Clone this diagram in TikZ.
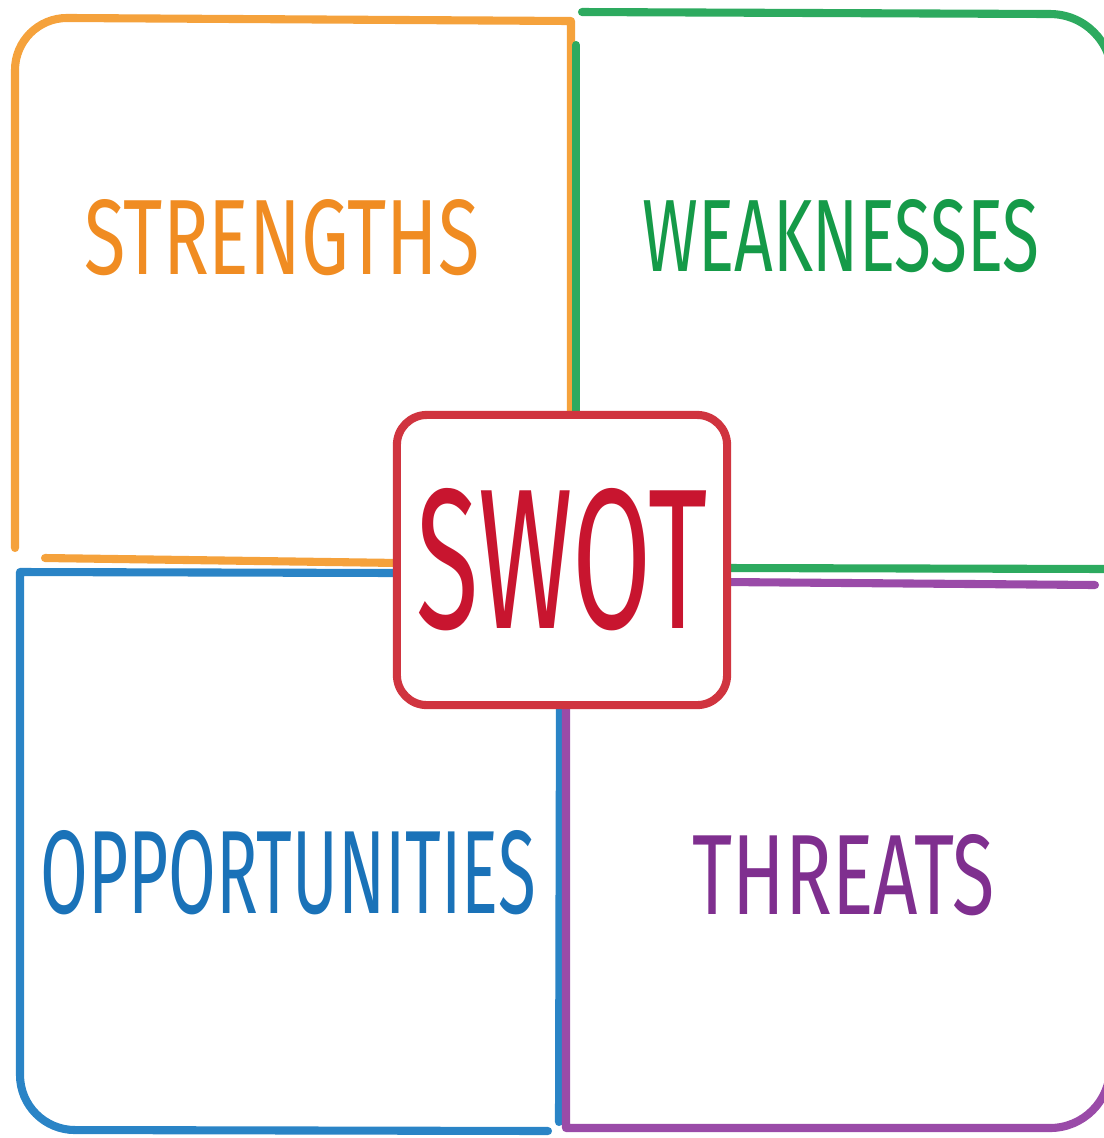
\documentclass[tikz,border=0pt]{standalone}
\usepackage{fontspec}
\usepackage{graphicx}
\setmainfont{Fira Sans}
\usetikzlibrary{positioning}
\definecolor{sorange}{HTML}{F5A23C}
\definecolor{sgreen}{HTML}{2DAA5F}
\definecolor{sblue}{HTML}{2A84C6}
\definecolor{spurple}{HTML}{9A4BA8}
\definecolor{sred}{HTML}{D0343F}
\definecolor{torange}{HTML}{F08C22}
\definecolor{tgreen}{HTML}{159A48}
\definecolor{tblue}{HTML}{1A72B8}
\definecolor{tpurple}{HTML}{7F2F8F}
\definecolor{tred}{HTML}{C8152F}
\tikzset{
    pen/.style={
           line width=2.3pt,
           line cap=round,
           line join=round,
           },
    word/.style={
           inner sep=0pt,
           },
}
\newcommand{\handword}[3]{\resizebox{#1}{#2}{#3}}

\begin{document}
\begin{tikzpicture}[
  x=0.01cm, y=-0.01cm,
  swotbox/.style={draw=sred, fill=white, line width=2.3pt, rounded corners=0.3cm,
    minimum width=3.3cm, minimum height=2.9cm, inner sep=0pt, text=tred}]
\useasboundingbox (0,0) rectangle (1104,1138);
% strengths
\draw[pen,sorange] (15,548) -- (15,70) arc[start angle=180,end angle=90,radius=0.52cm] -- (571,21) -- (571,425);
\draw[pen,sorange] (45,558) -- (400,563);
% weaknesses
\draw[pen,sgreen] (576,428) -- (576,45);
\draw[pen,sgreen] (582,12) -- (1050,14) arc[start angle=90,end angle=0,radius=0.62cm] -- (1112,569) -- (725,568);
% opportunities
\draw[pen,sblue] (400,573) -- (20,572) -- (20,1075) arc[start angle=180,end angle=270,radius=0.55cm] -- (548,1131);
\draw[pen,sblue] (560,705) -- (559,1122);
% threats
\draw[pen,spurple] (725,582) -- (1095,585);
\draw[pen,spurple] (566,705) -- (566,1128) -- (1050,1128) arc[start angle=270,end angle=360,radius=0.6cm];

\node[word,text=torange] (strengths) at (282,238) {\handword{3.95cm}{0.75cm}{STRENGTHS}};
\node[word,text=tgreen] (weaknesses) at (841,236) {\handword{3.97cm}{0.72cm}{WEAKNESSES}};
\node[word,text=tblue] (opportunities) at (288,873) {\handword{4.95cm}{0.83cm}{OPPORTUNITIES}};
\node[word,text=tpurple] (threats) at (844,875) {\handword{3.02cm}{0.8cm}{THREATS}};
\node[swotbox] (swot) at (562,560) {\handword{2.9cm}{1.4cm}{SWOT}};
\end{tikzpicture}
\end{document}
